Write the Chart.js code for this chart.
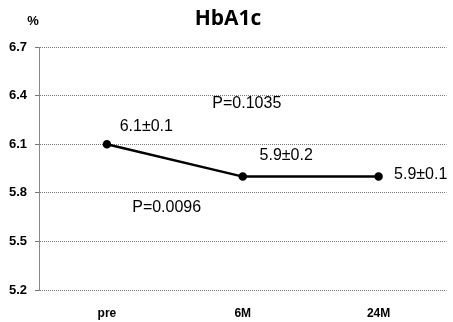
<!DOCTYPE html>
<html>
<head>
<meta charset="utf-8">
<script src="https://cdn.jsdelivr.net/npm/chart.js@4"></script>
<style>
  html, body { margin: 0; padding: 0; background: #fff; }
  #wrap { width: 453px; height: 322px; }
</style>
</head>
<body>
<div id="wrap"><canvas id="myChart" width="453" height="322"></canvas></div>
<script>
// categories and values
var labels = ['pre', '6M', '24M'];
var hba1c = [6.1, 5.9, 5.9];
var yTicks = [5.2, 5.5, 5.8, 6.1, 6.4, 6.7];
// text labels on the plot: [text, category index, value]
var notes = [
  ['6.1\u00b10.1', 0.29, 6.21],
  ['P=0.1035', 1.03, 6.35],
  ['5.9\u00b10.2', 1.32, 6.03],
  ['5.9\u00b10.1', 2.31, 5.91],
  ['P=0.0096', 0.44, 5.71]
];

var textPlugin = {
  id: 'texts',
  afterDraw: function(chart) {
    var ctx = chart.ctx;
    var x = chart.scales.x, y = chart.scales.y;
    ctx.save();
    ctx.fillStyle = '#000';
    ctx.textBaseline = 'middle';
    // title
    ctx.textAlign = 'center';
    ctx.font = 'bold 21px "Open Sans", Arial, sans-serif';
    ctx.fillText('HbA1c', 228, 19);
    ctx.font = 'bold 13px "Liberation Sans", Arial, sans-serif';
    ctx.fillText('%', 33, 21);
    // notes
    ctx.font = '16px "Liberation Sans", Arial, sans-serif';
    notes.forEach(function(n) {
      var px = x.getPixelForValue(Math.floor(n[1]));
      var step = x.getPixelForValue(1) - x.getPixelForValue(0);
      px += (n[1] - Math.floor(n[1])) * step;
      ctx.fillText(n[0], px, y.getPixelForValue(n[2]));
    });
    ctx.restore();
  }
};

var chartData = {
  type: 'line',
  data: {
    labels: labels,
    datasets: [{
      label: 'HbA1c',
      data: hba1c,
      borderColor: '#000',
      backgroundColor: '#000',
      borderWidth: 2.5,
      pointRadius: 3,
      pointBackgroundColor: '#000',
      tension: 0
    }]
  },
  options: {
    responsive: false,
    animation: false,
    layout: { padding: { top: 47, right: 6, left: 0, bottom: 0 } },
    plugins: { legend: { display: false }, tooltip: { enabled: false } },
    scales: {
      x: {
        offset: true,
        grid: { display: false },
        border: { display: false },
        ticks: { color: '#000', font: { family: '"Liberation Sans", Arial', size: 12, weight: 'bold' }, padding: 8 },
        afterFit: function(s) { s.height = 32; }
      },
      y: {
        min: 5.2,
        max: 6.7,
        afterBuildTicks: function(s) { s.ticks = yTicks.map(function(v) { return { value: v }; }); },
        grid: { color: '#777', lineWidth: 1, tickLength: 4, borderDash: [1, 3] },
        border: { display: true, color: '#888', dash: [1, 1] },
        ticks: {
          color: '#000',
          font: { family: '"Liberation Sans", Arial', size: 13, weight: 'bold' },
          padding: 8,
          callback: function(v) { return v.toFixed(1); }
        },
        afterFit: function(s) { s.width = 39; }
      }
    }
  },
  plugins: [textPlugin]
};

var chartArea = document.getElementById('myChart').getContext('2d');
var myChart = new Chart(chartArea, chartData);
</script>
</body>
</html>
